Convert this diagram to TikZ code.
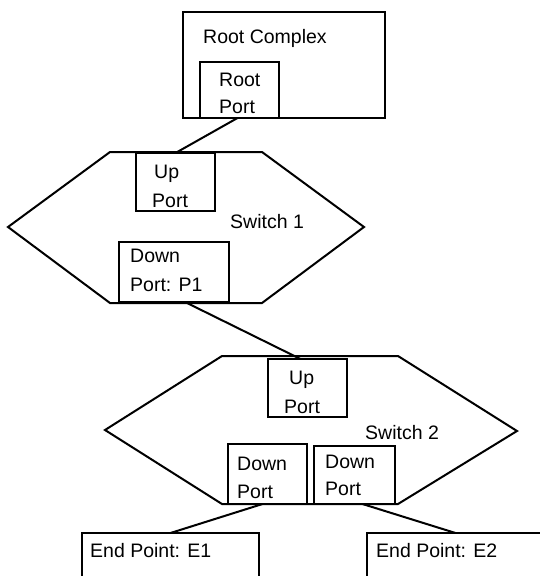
\documentclass[tikz,border=0pt]{standalone}
\usepackage{fontspec}
\setmainfont{Liberation Sans}
\usetikzlibrary{calc}
\begin{document}
\begin{tikzpicture}[x=1pt,y=-1pt,
  line join=miter,
  portbox/.style={draw,line width=2pt,fill=white,inner sep=0pt,outer sep=0pt,anchor=north west},
  bigbox/.style={draw,line width=2.8pt,inner sep=0pt,outer sep=0pt,anchor=north west},
  hexline/.style={draw,line width=2pt},
  wire/.style={draw,line width=2pt},
  lbl/.style={anchor=base west,inner sep=0pt,font=\fontsize{19.5}{23}\selectfont}]
\clip (0,0) rectangle (540,576);
\fill[white] (0,0) rectangle (540,576);

% root complex
\node[bigbox,minimum width=202pt,minimum height=106pt] (rc) at (183,12) {};
\node[portbox,minimum width=79pt,minimum height=56pt] (rp) at (200,62) {};
\node[lbl] (rctxt) at (203,43) {Root Complex};
\node[lbl] (rp1) at (219,86) {Root};
\node[lbl] (rp2) at (219,113) {Port};

% switch 1
\draw[hexline] (8,227) -- (110,152) -- (262,152) -- (364,227) -- (262,303) -- (110,303) -- cycle;
\node[portbox,minimum width=79pt,minimum height=58pt] (up1) at (136,153) {};
\node[lbl] (up1a) at (154,178) {Up};
\node[lbl] (up1b) at (152,207) {Port};
\node[lbl] (sw1) at (230,228) {Switch 1};
\node[portbox,minimum width=110pt,minimum height=60pt] (p1) at (119,242) {};
\node[lbl] (p1a) at (130,262) {Down};
\node[lbl] (p1b) at (130,291) {Port: P1};

% switch 2
\draw[hexline] (105,430) -- (222,356) -- (398,356) -- (517,431) -- (398,504) -- (222,504) -- cycle;
\node[portbox,minimum width=79pt,minimum height=58pt] (up2) at (268,359) {};
\node[lbl] (up2a) at (289,384) {Up};
\node[lbl] (up2b) at (284,413) {Port};
\node[lbl] (sw2) at (365,439) {Switch 2};
\node[portbox,minimum width=79pt,minimum height=60pt] (dl) at (228,444) {};
\node[lbl] (dla) at (237,470) {Down};
\node[lbl] (dlb) at (237,498) {Port};
\node[portbox,minimum width=81pt,minimum height=58pt] (dr) at (314,446) {};
\node[lbl] (dra) at (325,468) {Down};
\node[lbl] (drb) at (325,495) {Port};

% end points
\node[portbox,minimum width=177pt,minimum height=60pt] (e1) at (82,533) {};
\node[lbl] (e1t) at (90,557) {End Point: E1};
\node[portbox,minimum width=177pt,minimum height=60pt] (e2) at (367,533) {};
\node[lbl] (e2t) at (376,557) {End Point: E2};

% links
\draw[wire] ([xshift=-2pt]rp.south) -- (up1.north);
\draw[wire] ([xshift=11pt]p1.south) -- ([xshift=-7pt]up2.north);
\draw[wire] ([xshift=-5pt]dl.south) -- (e1.north);
\draw[wire] ([xshift=8pt]dr.south) -- (e2.north);
\end{tikzpicture}
\end{document}
